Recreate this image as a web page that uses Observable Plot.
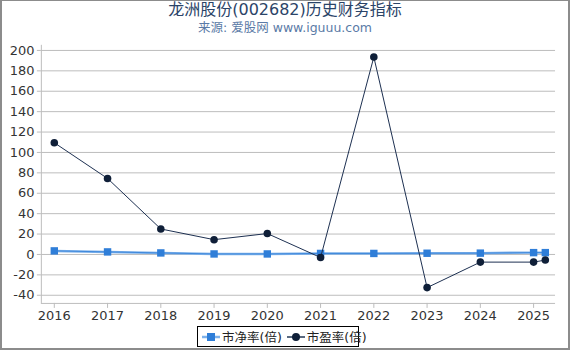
<!DOCTYPE html>
<html><head><meta charset="utf-8">
<script src="https://cdn.jsdelivr.net/npm/d3@7"></script>
<script src="https://cdn.jsdelivr.net/npm/@observablehq/plot@0.6"></script>
<style>
body{margin:0;font-family:"DejaVu Sans","Noto Sans CJK SC",sans-serif;}
#wrap{position:relative;width:570px;height:350px;box-sizing:border-box;border:2px solid #8c8c8c;border-top:1px solid #8c8c8c;background:#fff;overflow:hidden;}
#chart{position:absolute;left:-2px;top:-1px;}
#title{position:absolute;left:0;width:566px;top:-5px;text-align:center;font-size:16px;color:#2b4468;white-space:nowrap;}
#sub{position:absolute;left:0;width:566px;top:16px;text-align:center;font-size:12.5px;color:#5a7aa6;white-space:nowrap;}
#legend{position:absolute;left:195px;top:325px;width:162px;height:21px;border:1px solid #000;box-sizing:border-box;font-size:12.5px;color:#222;display:flex;align-items:center;white-space:nowrap;padding-left:2px;}
#legend svg{flex:none}
#legend span{flex:none}
</style></head>
<body>
<div id="wrap">
<div id="chart"></div>
<div id="title">龙洲股份(002682)历史财务指标</div>
<div id="sub">来源: 爱股网 www.iguuu.com</div>
<div id="legend"></div>
</div>
<script>
const years = [2016, 2017, 2018, 2019, 2020, 2021, 2022, 2023, 2024, 2025, 2025.22];
const pb = [3.5, 2.5, 1.5, 0.5, 0.5, 1.0, 1.0, 1.2, 1.3, 1.8, 1.8];
const pe = [109.5, 74.5, 25, 14.5, 20.5, -3, 193.5, -32.5, -7.5, -7.5, -5.5];
const yTicks = [-40, -20, 0, 20, 40, 60, 80, 100, 120, 140, 160, 180, 200];
const xTicks = [2016, 2017, 2018, 2019, 2020, 2021, 2022, 2023, 2024, 2025];
const seriesNames = ["市净率(倍)", "市盈率(倍)"];
const pbColor = "#2f7ed8", pbLine = "#7fb2ea", peColor = "#0f1f38";

const pbData = years.map((x, i) => ({x, y: pb[i]}));
const peData = years.map((x, i) => ({x, y: pe[i]}));
const x0 = 2015.757, x1 = 2025.412;

const chart = Plot.plot({
  width: 570, height: 350,
  marginTop: 45, marginBottom: 46, marginLeft: 41, marginRight: 13,
  style: {fontFamily: "DejaVu Sans, sans-serif", fontSize: "13px", color: "#333", background: "transparent"},
  x: {domain: [x0, x1], ticks: xTicks, tickFormat: d => String(d), tickSize: 5, label: null},
  y: {domain: [-48, 205], ticks: yTicks, tickSize: 4, label: null},
  marks: [
    Plot.gridY(yTicks, {stroke: "#bdbdbd", strokeOpacity: 1}),
    Plot.ruleX([x0], {stroke: "#bdbdbd"}),
    Plot.ruleY([-48], {stroke: "#bdbdbd"}),
    Plot.axisY({ticks: yTicks, tickFormat: d => String(d), tickSize: 4, stroke: "#bdbdbd", fill: "#333", tickPadding: 3}),
    Plot.axisX({ticks: xTicks, tickFormat: d => String(d), tickSize: 5, stroke: "#bdbdbd", fill: "#333", tickPadding: 2}),
    Plot.line(pbData, {x: "x", y: "y", stroke: pbLine, strokeWidth: 2.5}),
    Plot.line(pbData, {x: "x", y: "y", stroke: pbColor, strokeWidth: 0.8}),
    Plot.dot(pbData, {x: "x", y: "y", symbol: "square", fill: pbColor, r: 4.2}),
    Plot.line(peData, {x: "x", y: "y", stroke: "#1c2f50", strokeWidth: 1}),
    Plot.dot(peData, {x: "x", y: "y", fill: peColor, r: 3.8})
  ]
});
document.getElementById("chart").appendChild(chart);

const lg = document.getElementById("legend");
lg.innerHTML =
  `<svg width="22" height="14"><line x1="2" y1="7" x2="20" y2="7" stroke="${pbLine}" stroke-width="2.5"/><rect x="7" y="3" width="8" height="8" fill="${pbColor}"/></svg>` +
  `<span style="margin-right:3px">${seriesNames[0]}</span>` +
  `<svg width="22" height="14"><line x1="2" y1="7" x2="20" y2="7" stroke="#5a6a80" stroke-width="2"/><circle cx="11" cy="7" r="4" fill="${peColor}"/></svg>` +
  `<span>${seriesNames[1]}</span>`;
</script>
</body></html>
